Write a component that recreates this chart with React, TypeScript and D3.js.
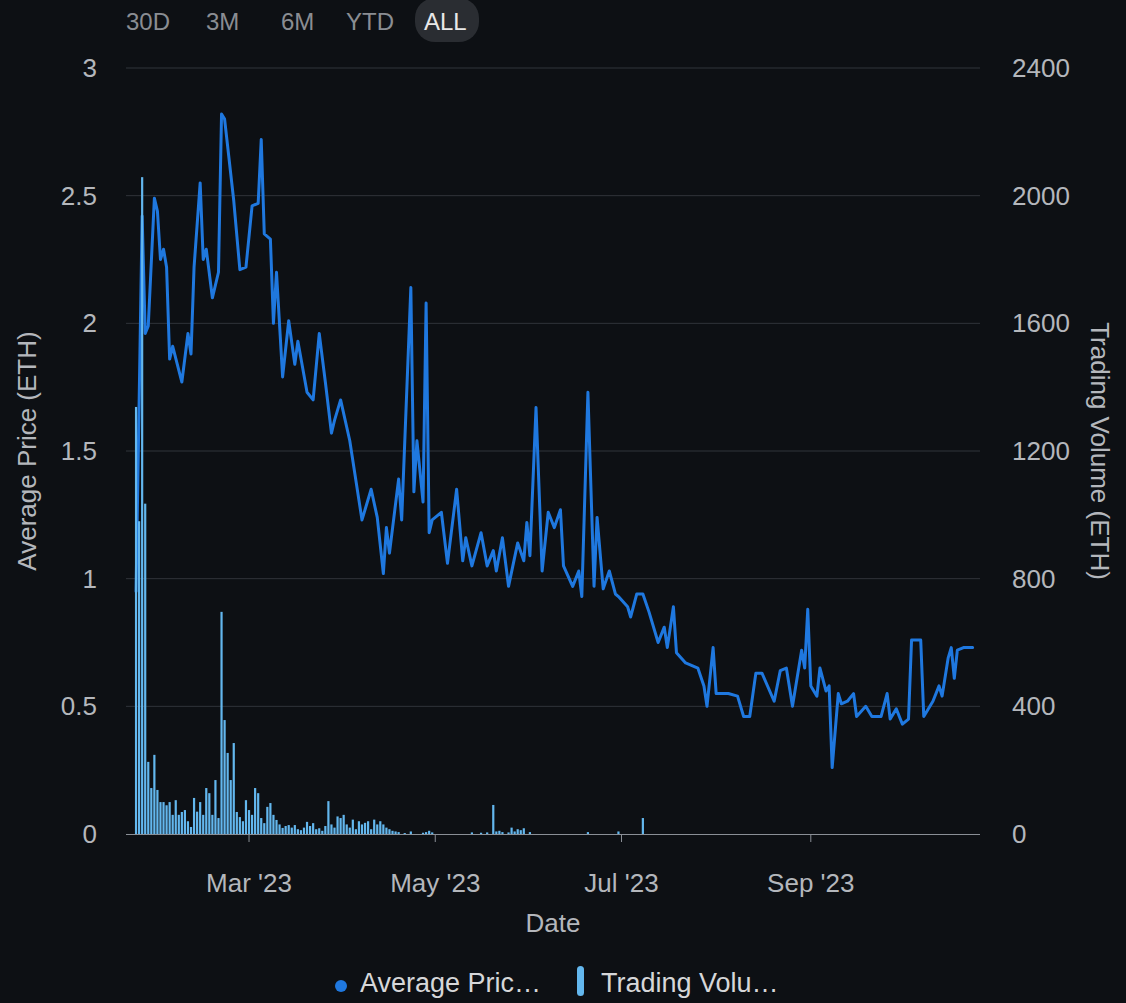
import React, { useEffect } from 'react';
import * as d3 from 'd3';

// average price trace (ETH)
const priceDates = [
  '2023-01-23', '2023-01-25', '2023-01-26', '2023-01-27', '2023-01-29', '2023-01-30', '2023-01-31', '2023-02-01',
  '2023-02-02', '2023-02-03', '2023-02-04', '2023-02-07', '2023-02-09', '2023-02-10', '2023-02-11', '2023-02-13',
  '2023-02-14', '2023-02-15', '2023-02-17', '2023-02-19', '2023-02-20', '2023-02-21', '2023-02-24', '2023-02-26',
  '2023-02-28', '2023-03-02', '2023-03-04', '2023-03-05', '2023-03-06', '2023-03-08', '2023-03-09', '2023-03-10',
  '2023-03-12', '2023-03-14', '2023-03-16', '2023-03-17', '2023-03-20', '2023-03-22', '2023-03-24', '2023-03-26',
  '2023-03-28', '2023-03-29', '2023-03-31', '2023-04-03', '2023-04-07', '2023-04-10', '2023-04-12', '2023-04-14',
  '2023-04-15', '2023-04-16', '2023-04-19', '2023-04-20', '2023-04-23', '2023-04-24', '2023-04-25', '2023-04-27',
  '2023-04-28', '2023-04-29', '2023-04-30', '2023-05-03', '2023-05-05', '2023-05-08', '2023-05-10', '2023-05-11',
  '2023-05-13', '2023-05-16', '2023-05-18', '2023-05-20', '2023-05-21', '2023-05-23', '2023-05-25', '2023-05-28',
  '2023-05-30', '2023-05-31', '2023-06-01', '2023-06-03', '2023-06-05', '2023-06-07', '2023-06-09', '2023-06-11',
  '2023-06-12', '2023-06-15', '2023-06-17', '2023-06-18', '2023-06-20', '2023-06-22', '2023-06-23', '2023-06-25',
  '2023-06-27', '2023-06-29', '2023-06-30', '2023-07-03', '2023-07-04', '2023-07-06', '2023-07-08', '2023-07-10',
  '2023-07-13', '2023-07-15', '2023-07-16', '2023-07-18', '2023-07-19', '2023-07-22', '2023-07-26', '2023-07-28',
  '2023-07-29', '2023-07-31', '2023-08-01', '2023-08-05', '2023-08-08', '2023-08-10', '2023-08-12', '2023-08-14',
  '2023-08-16', '2023-08-20', '2023-08-22', '2023-08-24', '2023-08-26', '2023-08-29', '2023-08-30', '2023-08-31',
  '2023-09-01', '2023-09-03', '2023-09-04', '2023-09-06', '2023-09-07', '2023-09-08', '2023-09-10', '2023-09-11',
  '2023-09-13', '2023-09-15', '2023-09-16', '2023-09-19', '2023-09-21', '2023-09-24', '2023-09-26', '2023-09-27',
  '2023-09-29', '2023-10-01', '2023-10-03', '2023-10-04', '2023-10-07', '2023-10-08', '2023-10-11', '2023-10-13',
  '2023-10-14', '2023-10-16', '2023-10-17', '2023-10-18', '2023-10-19', '2023-10-21', '2023-10-24',
];
const priceValues = [
  0.95, 2.42, 1.96, 1.99, 2.49, 2.44, 2.25, 2.29,
  2.22, 1.86, 1.91, 1.77, 1.96, 1.88, 2.22, 2.55,
  2.25, 2.29, 2.10, 2.20, 2.82, 2.80, 2.48, 2.21,
  2.22, 2.46, 2.47, 2.72, 2.35, 2.33, 2.00, 2.20,
  1.79, 2.01, 1.84, 1.93, 1.73, 1.70, 1.96, 1.77,
  1.57, 1.62, 1.70, 1.54, 1.23, 1.35, 1.24, 1.02,
  1.20, 1.10, 1.39, 1.23, 2.14, 1.34, 1.54, 1.30,
  2.08, 1.18, 1.23, 1.26, 1.06, 1.35, 1.07, 1.16,
  1.05, 1.18, 1.05, 1.11, 1.03, 1.16, 0.97, 1.14,
  1.07, 1.22, 1.09, 1.67, 1.03, 1.26, 1.20, 1.27,
  1.05, 0.97, 1.03, 0.93, 1.73, 0.97, 1.24, 0.96,
  1.03, 0.94, 0.93, 0.89, 0.85, 0.94, 0.94, 0.87,
  0.75, 0.81, 0.73, 0.89, 0.71, 0.67, 0.65, 0.58,
  0.50, 0.73, 0.55, 0.55, 0.54, 0.46, 0.46, 0.63,
  0.63, 0.52, 0.64, 0.65, 0.50, 0.72, 0.65, 0.88,
  0.58, 0.54, 0.65, 0.56, 0.58, 0.26, 0.55, 0.51,
  0.52, 0.55, 0.46, 0.50, 0.46, 0.46, 0.55, 0.45,
  0.49, 0.43, 0.45, 0.76, 0.76, 0.46, 0.52, 0.58,
  0.54, 0.69, 0.73, 0.61, 0.72, 0.73, 0.73,
];

// daily trading volume (ETH), starting 2023-01-23
const volumeStart = '2023-01-23';
const volumeValues = [
  1338, 980, 2058, 1035, 226, 144, 248, 138, 100, 100,
  90, 100, 60, 106, 60, 69, 75, 40, 22, 113,
  70, 100, 60, 144, 128, 60, 169, 50, 696, 357,
  254, 169, 285, 69, 53, 40, 106, 75, 60, 144,
  128, 50, 34, 85, 97, 60, 44, 30, 19, 25,
  28, 20, 28, 15, 12, 20, 38, 25, 34, 15,
  18, 10, 25, 103, 30, 20, 55, 50, 60, 30,
  20, 45, 15, 40, 30, 35, 40, 15, 45, 30,
  40, 30, 20, 15, 10, 8, 6, 0, 3, 0,
  8, 0, 0, 0, 4, 6, 10, 5, 0, 0,
  0, 0, 0, 0, 0, 0, 0, 0, 0, 0,
  5, 0, 0, 4, 0, 5, 0, 91, 8, 10,
  6, 0, 5, 20, 8, 15, 12, 18, 0, 6,
  0, 0, 0, 0, 0, 0, 0, 0, 0, 0,
  0, 0, 0, 0, 0, 0, 0, 0, 6, 0,
  0, 0, 0, 0, 0, 0, 0, 0, 8, 0,
  0, 0, 0, 0, 0, 0, 50,
];

const priceTicks = [0, 0.5, 1, 1.5, 2, 2.5, 3];
const volumeTicks = [0, 400, 800, 1200, 1600, 2000, 2400];
const monthTicks = ['2023-03-01', '2023-05-01', '2023-07-01', '2023-09-01'];
const rangeButtons = ['30D', '3M', '6M', 'YTD', 'ALL'];

const W = 1126;
const H = 1003;
const FONT = '"Liberation Sans", Arial, sans-serif';

const App: React.FC = () => {
  useEffect(() => {
    document.body.style.margin = '0';
    document.body.style.background = '#0d1014';
  }, []);

  const left = 126;
  const right = 980;
  const top = 68;
  const bottom = 834;

  const x = d3.scaleUtc()
    .domain([new Date('2023-01-19T17:00:00Z'), new Date('2023-10-26T10:00:00Z')])
    .range([left, right]);
  const yPrice = d3.scaleLinear().domain([0, 3]).range([bottom, top]);
  const yVol = d3.scaleLinear().domain([0, 2400]).range([bottom, top]);

  const pricePoints = priceDates.map((d, i) => ({ date: new Date(d), value: priceValues[i] }));
  const line = d3.line<{ date: Date; value: number }>()
    .x(d => x(d.date))
    .y(d => yPrice(d.value));

  const start = new Date(volumeStart);
  const bars = volumeValues
    .map((v, i) => ({ date: d3.utcDay.offset(start, i), value: v }))
    .filter(d => d.value > 0);
  const barW = 2.2;

  const fmtMonth = d3.utcFormat("%b '%y");
  const buttonX = [126, 206, 281, 346, 424];

  return (
    <svg width={W} height={H} style={{ display: 'block', background: '#0d1014', fontFamily: FONT }}>
      <rect x={0} y={0} width={W} height={H} fill="#0d1014" />

      {/* range selector */}
      <rect x={415} y={-2} width={64} height={44} rx={20} fill="#2a2d32" />
      {rangeButtons.map((b, i) => (
        <text key={b} x={buttonX[i]} y={30} fontSize={24}
          fill={b === 'ALL' ? '#e8e8e8' : '#8a8d92'}>{b}</text>
      ))}

      {/* grid */}
      {priceTicks.slice(1).map(t => (
        <line key={t} x1={left} x2={right} y1={yPrice(t)} y2={yPrice(t)} stroke="#30343a" strokeWidth={1} />
      ))}

      {/* price line */}
      <path d={line(pricePoints) || ''} fill="none" stroke="#1f78df" strokeWidth={3}
        strokeLinejoin="round" strokeLinecap="round" />

      {/* volume bars */}
      {bars.map((b, i) => (
        <rect key={i} x={x(b.date) - barW / 2} y={yVol(b.value)} width={barW}
          height={bottom - yVol(b.value)} fill="#63b7ee" />
      ))}

      {/* x axis */}
      <line x1={left} x2={right} y1={bottom + 0.5} y2={bottom + 0.5} stroke="#8a8f96" strokeWidth={1} />
      {monthTicks.map(m => {
        const px = x(new Date(m));
        return (
          <g key={m}>
            <line x1={px} x2={px} y1={bottom} y2={bottom + 8} stroke="#8a8f96" strokeWidth={1} />
            <text x={px} y={892} textAnchor="middle" fontSize={26} fill="#b4b7bc">{fmtMonth(new Date(m))}</text>
          </g>
        );
      })}
      <text x={553} y={932} textAnchor="middle" fontSize={26} fill="#b4b7bc">Date</text>

      {/* left axis */}
      {priceTicks.map(t => (
        <text key={t} x={97} y={yPrice(t)} dy="0.35em" textAnchor="end" fontSize={26} fill="#b4b7bc">{t}</text>
      ))}
      <text transform={`translate(36,451) rotate(-90)`} textAnchor="middle" fontSize={26} fill="#b4b7bc">
        Average Price (ETH)
      </text>

      {/* right axis */}
      {volumeTicks.map(t => (
        <text key={t} x={1012} y={yVol(t)} dy="0.35em" textAnchor="start" fontSize={26} fill="#b4b7bc">{t}</text>
      ))}
      <text transform={`translate(1091,451) rotate(90)`} textAnchor="middle" fontSize={26} fill="#b4b7bc">
        Trading Volume (ETH)
      </text>

      {/* legend */}
      <circle cx={341} cy={986} r={6} fill="#1f78df" />
      <text x={360} y={992} fontSize={27} fill="#d6d7d9">Average Pric…</text>
      <rect x={577} y={966} width={7} height={30} rx={3.5} fill="#63b7ee" />
      <text x={601} y={992} fontSize={27} fill="#d6d7d9">Trading Volu…</text>
    </svg>
  );
};

export default App;
